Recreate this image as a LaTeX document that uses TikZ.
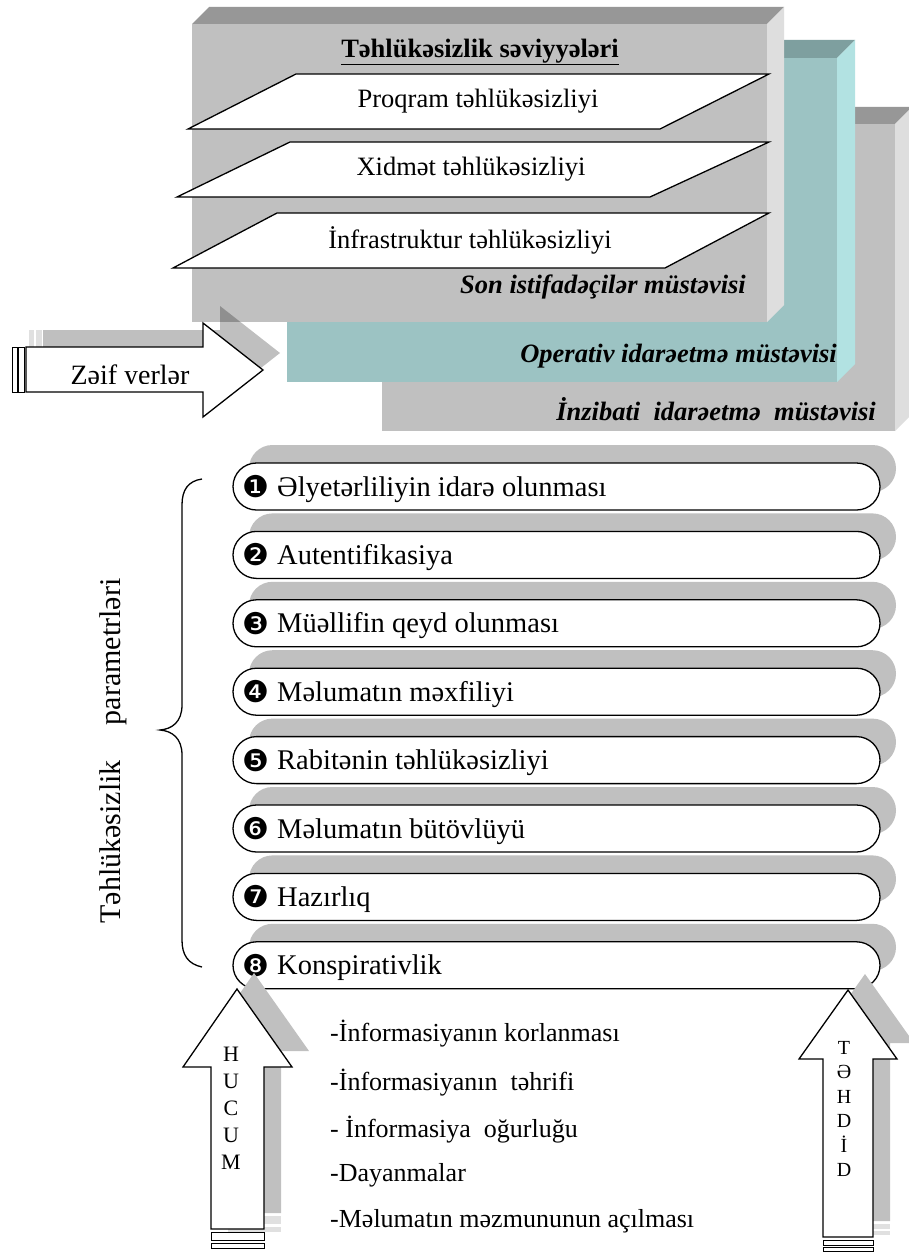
\documentclass[tikz,border=0pt]{standalone}
\usepackage{fontspec}
\setmainfont{Liberation Serif}
\newfontfamily\djv{DejaVu Sans}
\usetikzlibrary{calc}
\definecolor{boxgray}{HTML}{C0C0C0}
\definecolor{boxtop}{HTML}{979797}
\definecolor{boxside}{HTML}{DEDEDE}
\definecolor{tealfront}{HTML}{9CC3C3}
\definecolor{tealtop}{HTML}{7E9F9F}
\definecolor{tealside}{HTML}{B2E2E2}
\definecolor{shad}{HTML}{C0C0C0}
\newcommand\drawslab[8]{%
  \fill[#6] (#1,#2) rectangle (#3,#4);
  \fill[#7] (#1,#2) -- (#1+#5,#2-#5) -- (#3+#5,#2-#5) -- (#3,#2) -- cycle;
  \fill[#8] (#3,#2) -- (#3+#5,#2-#5) -- (#3+#5,#4-#5) -- (#3,#4) -- cycle;}
\tikzset{
  lbl/.style={inner sep=0pt, font=\fontsize{26.5}{30}\selectfont},
  plane/.style={inner sep=0pt, font=\fontsize{26.5}{30}\selectfont\bfseries\itshape},
  para/.style={draw=black, fill=white, line width=1.3pt, line join=miter},
  itembox/.style={draw=black, fill=white, line width=1.3pt, rounded corners=23.5pt,
    minimum width=647pt, minimum height=47pt, inner sep=0pt},
  itxt/.style={inner sep=0pt, font=\fontsize{28.5}{32}\selectfont},
  inum/.style={inner sep=0pt, font=\djv\fontsize{30}{32}\selectfont},
  blk/.style={draw=black, fill=white, line width=1.3pt, line join=miter},
  trshadow/.style={fill=black, fill opacity=0.25},
  solshadow/.style={fill=shad},
  bartxt/.style={inner sep=0pt, font=\fontsize{26}{30}\selectfont},
}
\begin{document}
\begin{tikzpicture}[x=1pt,y=-1pt]
\useasboundingbox (0,0) rectangle (909,1252);
\fill[white] (0,0) rectangle (909,1252);

% ---- three planes (back to front)
\drawslab{382}{124}{895}{431}{17}{boxgray}{boxtop}{boxside}
\drawslab{287}{58}{837}{382}{18}{tealfront}{tealtop}{tealside}
\drawslab{192}{24}{767}{322}{17}{boxgray}{boxtop}{boxside}

\node[plane, anchor=base east] (inz) at (876,420) {İnzibati\ \ idarəetmə\ \ müstəvisi};
\node[plane, anchor=base east] (opr) at (837,362) {Operativ idarəetmə müstəvisi};
\node[plane, anchor=base east] (son) at (746,293) {Son istifadəçilər müstəvisi};

% ---- title and security levels
\node[lbl, font=\fontsize{26.5}{30}\selectfont\bfseries] (title) at (480,52)
  {\underline{Təhlükəsizlik səviyyələri}};
\draw[para] (296,74) -- (769,74) -- (660,129) -- (188,129) -- cycle;
\node[lbl] (p1) at (478,101) {Proqram təhlükəsizliyi};
\draw[para] (290,142) -- (769,142) -- (650,197) -- (177,197) -- cycle;
\node[lbl] (p2) at (471,169) {Xidmət təhlükəsizliyi};
\draw[para] (277,213) -- (769,213) -- (665,268) -- (173,268) -- cycle;
\node[lbl] (p3) at (470,240) {İnfrastruktur təhlükəsizliyi};

% ---- "Zəif yerlər" arrow
\begin{scope}[shift={(17,-17)}]
  \fill[trshadow] (26,347) -- (203,347) -- (203,323) -- (263,370) -- (203,417) -- (203,392) -- (26,392) -- cycle;
  \fill[black, fill opacity=0.12] (12,347) rectangle (17,392);
  \fill[black, fill opacity=0.12] (18.5,347) rectangle (24.5,392);
\end{scope}
\draw[blk] (26,347) -- (203,347) -- (203,323) -- (263,370) -- (203,417) -- (203,392) -- (26,392) -- cycle;
\draw[blk, line width=1pt] (12,347) rectangle (17,392);
\draw[blk, line width=1pt] (18.5,347) rectangle (24.5,392);
\begin{scope}
  \clip (27,348) rectangle (202,383);
  \node[inner sep=0pt, anchor=base, font=\fontsize{28}{32}\selectfont] (zy) at (130,384) {Zəif yerlər};
\end{scope}

% ---- security parameters
\foreach \n/\d/\t in {1/❶/Əlyetərliliyin idarə olunması,
                      2/❷/Autentifikasiya,
                      3/❸/Müəllifin qeyd olunması,
                      4/❹/Məlumatın məxfiliyi,
                      5/❺/Rabitənin təhlükəsizliyi,
                      6/❻/Məlumatın bütövlüyü,
                      7/❼/Hazırlıq,
                      8/❽/Konspirativlik}{
  \pgfmathsetmacro\cy{486.5+68.4*(\n-1)}
  \fill[solshadow, rounded corners=23.5pt] (249,\cy-41.5) rectangle (896,\cy+5.5);
  \node[itembox] (it\n) at (556.5,\cy) {};
  \node[inum, anchor=center] (nm\n) at (256,\cy) {\d};
  \node[itxt, anchor=base west] (tx\n) at (277,\cy+9.5) {\t};
}

% ---- brace and its label
\draw[line width=1.3pt] (202,479) .. controls (188,481) and (182,490) .. (182,505)
  -- (182,705) .. controls (182,722) and (172,729) .. (160,730)
  .. controls (172,731) and (182,738) .. (182,755)
  -- (182,940) .. controls (182,955) and (188,964) .. (202,967);
\node[inner sep=0pt, rotate=90, font=\fontsize{30}{34}\selectfont] (tp) at (113,751)
  {Təhlükəsizlik\hspace{35pt}parametrləri};

% ---- threats list
\node[bartxt, anchor=base west] (l1) at (330,1041) {-İnformasiyanın korlanması};
\node[bartxt, anchor=base west] (l2) at (330,1090) {-İnformasiyanın\ \ təhrifi};
\node[bartxt, anchor=base west] (l3) at (330,1137) {-\ İnformasiya\ \ oğurluğu};
\node[bartxt, anchor=base west] (l4) at (330,1181) {-Dayanmalar};
\node[bartxt, anchor=base west] (l5) at (330,1227) {-Məlumatın məzmununun açılması};

% ---- HUCUM arrow
\begin{scope}[shift={(17,-16)}]
  \fill[solshadow] (237,989) -- (292,1067) -- (264,1067) -- (264,1229) -- (211,1229) -- (211,1067) -- (183,1067) -- cycle;
  \fill[black!12] (211,1232) rectangle (264,1240);
  \fill[black!12] (211,1243) rectangle (264,1248);
\end{scope}
\draw[blk] (237,989) -- (292,1067) -- (264,1067) -- (264,1229) -- (211,1229) -- (211,1067) -- (183,1067) -- cycle;
\draw[blk, line width=1pt] (211,1232) rectangle (264,1240);
\draw[blk, line width=1pt] (211,1243) rectangle (264,1248);
\node[inner sep=0pt, align=center, font=\fontsize{22}{27}\selectfont] (huc) at (231,1108)
  {H\\U\\C\\U\\M};

% ---- TƏHDİD arrow
\begin{scope}[shift={(17,-16)}]
  \fill[solshadow] (848,990) -- (897,1059) -- (873,1059) -- (873,1237) -- (823,1237) -- (823,1059) -- (799,1059) -- cycle;
  \fill[black!12] (823,1240) rectangle (873,1245);
  \fill[black!12] (823,1247) rectangle (873,1251);
\end{scope}
\draw[blk] (848,990) -- (897,1059) -- (873,1059) -- (873,1237) -- (823,1237) -- (823,1059) -- (799,1059) -- cycle;
\draw[blk, line width=1pt] (823,1240) rectangle (873,1245);
\draw[blk, line width=1pt] (823,1247) rectangle (873,1251);
\node[inner sep=0pt, align=center, font=\fontsize{20}{24.4}\selectfont] (thd) at (844,1109)
  {T\\Ə\\H\\D\\İ\\D};
\end{tikzpicture}
\end{document}
